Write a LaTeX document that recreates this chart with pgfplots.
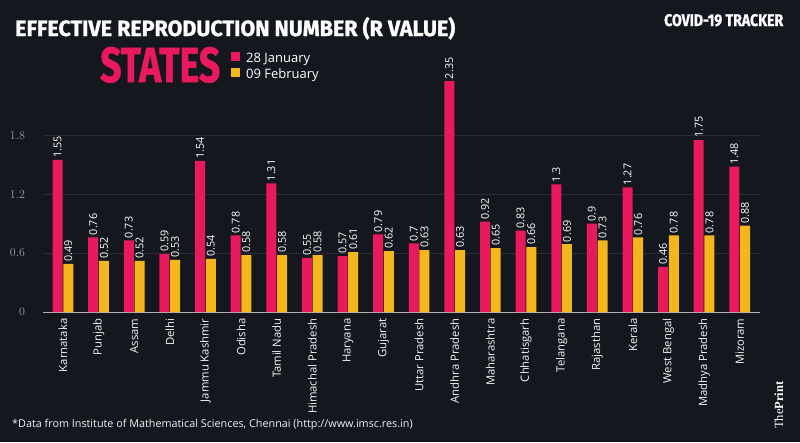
\documentclass[border=0pt]{standalone}
\usepackage{graphicx}
\usepackage{pgfplots}
\pgfplotsset{compat=1.18}
\usepackage{pgfplotstable}
\usepackage{fontspec}
\setmainfont{Open Sans}
\newfontfamily\seriffont{Liberation Serif}
\newfontfamily\headfont{Fira Sans}[BoldFeatures={FakeBold=1.2}]
\definecolor{bg}{HTML}{15171E}
\definecolor{pinkbar}{HTML}{E8195C}
\definecolor{yellowbar}{HTML}{F4B71B}
\definecolor{gridc}{HTML}{2A2D35}

\pgfplotstableread{
idx jan feb
0 1.55 0.49
1 0.76 0.52
2 0.73 0.52
3 0.59 0.53
4 1.54 0.54
5 0.78 0.58
6 1.31 0.58
7 0.55 0.58
8 0.57 0.61
9 0.79 0.62
10 0.7 0.63
11 2.35 0.63
12 0.92 0.65
13 0.83 0.66
14 1.3 0.69
15 0.9 0.73
16 1.27 0.76
17 0.46 0.78
18 1.75 0.78
19 1.48 0.88
}\datatable

\begin{document}
\begin{tikzpicture}
\path[use as bounding box, fill=bg] (0pt,0pt) rectangle (800pt,-442pt);
\begin{axis}[
  at={(43pt,-312pt)}, anchor=south west,
  scale only axis, width=717pt, height=245.5pt,
  xmin=-0.56, xmax=19.57, ymin=0, ymax=2.5,
  axis x line*=bottom, axis y line*=left,
  y axis line style={draw=none},
  x axis line style={draw=gray!60, line width=0.8pt, -},
  major tick length=0pt,
  ymajorgrids, grid style={draw=gridc, line width=0.6pt},
  ytick={0,0.6,1.2,1.8},
  yticklabel style={text=gray!75, font=\fontsize{12}{13}\selectfont, xshift=-14.5pt},
  xtick={0,...,19},
  xticklabels={Karnataka,Punjab,Assam,Delhi,Jammu Kashmir,Odisha,Tamil Nadu,Himachal Pradesh,Haryana,Gujarat,Uttar Pradesh,Andhra Pradesh,Maharashtra,Chhatisgarh,Telangana,Rajasthan,Kerala,West Bengal,Madhya Pradesh,Mizoram},
  xticklabel style={rotate=90, anchor=east, text=white!92!gray, font=\fontsize{11.3}{13}\selectfont, xshift=-3pt},
  ybar=0.7pt, bar width=10pt,
  nodes near coords={\pgfmathprintnumber[assume math mode=true]{\pgfplotspointmeta}},
  nodes near coords style={rotate=90, anchor=west, text=white, font=\fontsize{10.8}{12}\selectfont, inner sep=2pt},
]
\addplot[fill=pinkbar, draw=none] table[x=idx, y=jan] {\datatable};
\addplot[fill=yellowbar, draw=none] table[x=idx, y=feb] {\datatable};
\end{axis}

\node[anchor=base west, inner sep=0, text=white] at (15pt,-36pt) {\resizebox{440pt}{19pt}{\headfont\bfseries EFFECTIVE REPRODUCTION NUMBER (R VALUE)}};
\node[anchor=base west, inner sep=0, text=pinkbar] at (100pt,-82pt) {\resizebox{120pt}{35pt}{\headfont\bfseries STATES}};
\fill[pinkbar] (231pt,-52pt) rectangle (240pt,-61pt);
\fill[yellowbar] (231pt,-68pt) rectangle (240pt,-77pt);
\node[anchor=base west, inner sep=0, text=white, font=\fontsize{13}{15}\selectfont] at (246pt,-62pt) {28 January};
\node[anchor=base west, inner sep=0, text=white, font=\fontsize{13}{15}\selectfont] at (246pt,-78pt) {09 February};
\node[anchor=base west, inner sep=0, text=white] at (664pt,-26pt) {\resizebox{119pt}{12pt}{\headfont\bfseries COVID-19 TRACKER}};
\node[anchor=base west, inner sep=0, text=white!90!gray, font=\fontsize{10.8}{12}\selectfont] at (12pt,-427pt) {*Data from Institute of Mathematical Sciences, Chennai (http://www.imsc.res.in)};
\node[rotate=90, anchor=base west, inner sep=0, text=white, font=\fontsize{12.5}{14}\selectfont] at (783pt,-429pt) {\seriffont The\textbf{Print}};
\end{tikzpicture}
\end{document}
